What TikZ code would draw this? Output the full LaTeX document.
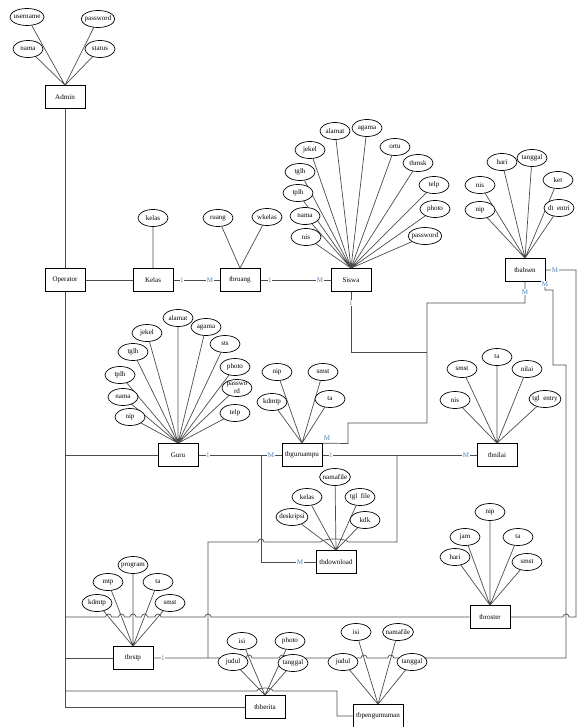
\documentclass[tikz,border=0pt]{standalone}
\usepackage{fontspec}
\setmainfont{Liberation Serif}
\usepackage{xcolor}
\usetikzlibrary{shapes.geometric,backgrounds}
\definecolor{relblue}{RGB}{79,129,189}

\begin{document}
\begin{tikzpicture}[x = 0.3mm, y = -0.3mm,
    font = \fontsize{6}{6.5}\selectfont,
    ent/.style = {draw, line width = 0.6pt, fill = white, minimum width = 12mm, minimum height = 6.9mm, inner sep = 1pt},
    attr/.style = {draw, line width = 0.6pt, ellipse, fill = white, minimum width = 9mm, minimum height = 5.1mm,
        inner xsep = -1.2pt, inner ysep = 0pt},
    link/.style = {draw = gray!60!black, line width = 0.6pt},
    one/.style = {fill = white, text = gray, inner sep = 0.6pt},
    many/.style = {fill = white, text = relblue, inner sep = 0.6pt}]

    \useasboundingbox (0,0) rectangle (578,727);

    % Entities
    \node[ent] (admin) at (65,97) {Admin};
    \node[ent] (operator) at (65,280) {Operator};
    \node[ent] (kelas) at (153,280) {Kelas};
    \node[ent] (tbruang) at (240,280) {tbruang};
    \node[ent] (siswa) at (351,280) {Siswa};
    \node[ent] (tbabsen) at (525,270) {tbabsen};
    \node[ent] (guru) at (178,455) {Guru};
    \node[ent] (tbguruampu) at (302,455) {tbguruampu};
    \node[ent] (tbnilai) at (497,455) {tbnilai};
    \node[ent] (tbdownload) at (336,562) {tbdownload};
    \node[ent] (tbroster) at (490,617) {tbroster};
    \node[ent] (tbrstp) at (133,658) {tbrstp};
    \node[ent] (tbberita) at (265,707) {tbberita};
    \node[ent, minimum width = 15mm] (tbpengumuman) at (378,716) {tbpengumuman};

    % Attributes
    \node[attr] (a-username) at (27,17) {username};
    \node[attr] (a-password) at (98,19) {password};
    \node[attr] (a-nama) at (28,49) {nama};
    \node[attr] (a-status) at (100,49) {status};

    \node[attr] (k-kelas) at (153,218) {kelas};
    \node[attr] (r-ruang) at (218,218) {ruang};
    \node[attr] (r-wkelas) at (267,217) {wkelas};

    \node[attr] (s-nis) at (306,237) {nis};
    \node[attr] (s-nama) at (305,216) {nama};
    \node[attr] (s-tplh) at (298,193) {tplh};
    \node[attr] (s-tglh) at (300,172) {tglh};
    \node[attr] (s-jekel) at (310,150) {jekel};
    \node[attr] (s-alamat) at (335,131) {alamat};
    \node[attr] (s-agama) at (367,128) {agama};
    \node[attr] (s-ortu) at (395,147) {ortu};
    \node[attr] (s-thmsk) at (418,163) {thmsk};
    \node[attr] (s-telp) at (434,185) {telp};
    \node[attr] (s-photo) at (435,209) {photo};
    \node[attr] (s-password) at (425,236) {password};

    \node[attr] (b-hari) at (502,162) {hari};
    \node[attr] (b-tanggal) at (532,158) {tanggal};
    \node[attr] (b-nis) at (480,185) {nis};
    \node[attr] (b-ket) at (558,180) {ket};
    \node[attr] (b-nip) at (480,210) {nip};
    \node[attr] (b-dtentri) at (559,208) {dt\ \ entri};

    \node[attr] (g-alamat) at (178,318) {alamat};
    \node[attr] (g-agama) at (206,327) {agama};
    \node[attr] (g-jekel) at (147,333) {jekel};
    \node[attr] (g-sts) at (225,344) {sts};
    \node[attr] (g-tglh) at (133,352) {tglh};
    \node[attr] (g-photo) at (235,367) {photo};
    \node[attr] (g-tplh) at (120,375) {tplh};
    \node[attr, align = center] (g-password) at (237,388) {passwo\\rd};
    \node[attr] (g-nama) at (123,397) {nama};
    \node[attr] (g-telp) at (235,413) {telp};
    \node[attr] (g-nip) at (130,417) {nip};

    \node[attr] (ga-nip) at (277,372) {nip};
    \node[attr] (ga-smst) at (323,372) {smst};
    \node[attr] (ga-kdmtp) at (272,402) {kdmtp};
    \node[attr] (ga-ta) at (330,399) {ta};

    \node[attr] (n-smst) at (462,369) {smst};
    \node[attr] (n-ta) at (497,357) {ta};
    \node[attr] (n-nilai) at (527,369) {nilai};
    \node[attr] (n-nis) at (455,400) {nis};
    \node[attr] (n-tglentry) at (545,399) {tgl\ \ entry};

    \node[attr] (d-namafile) at (335,477) {namafile};
    \node[attr] (d-kelas) at (307,497) {kelas};
    \node[attr] (d-tglfile) at (360,497) {tgl\ \ file};
    \node[attr] (d-deskripsi) at (292,517) {deskripsi};
    \node[attr] (d-kdk) at (365,520) {kdk};

    \node[attr] (ro-nip) at (490,512) {nip};
    \node[attr] (ro-jam) at (465,537) {jam};
    \node[attr] (ro-ta) at (518,537) {ta};
    \node[attr] (ro-hari) at (455,557) {hari};
    \node[attr] (ro-smst) at (527,562) {smst};

    \node[attr] (p-program) at (133,565) {program};
    \node[attr] (p-mtp) at (108,582) {mtp};
    \node[attr] (p-ta) at (158,582) {ta};
    \node[attr] (p-kdmtp) at (97,603) {kdmtp};
    \node[attr] (p-smst) at (170,603) {smst};

    \node[attr] (be-isi) at (242,641) {isi};
    \node[attr] (be-photo) at (290,641) {photo};
    \node[attr] (be-judul) at (233,662) {judul};
    \node[attr] (be-tanggal) at (293,663) {tanggal};

    \node[attr] (pe-isi) at (356,632) {isi};
    \node[attr] (pe-namafile) at (398,632) {namafile};
    \node[attr] (pe-judul) at (343,662) {judul};
    \node[attr] (pe-tanggal) at (412,662) {tanggal};

    \begin{scope}[on background layer]
    % attribute lines
    \draw[link] (a-username) -- (admin.north) (a-password) -- (admin.north)
        (a-nama) -- (admin.north) (a-status) -- (admin.north);
    \draw[link] (k-kelas) -- (kelas.north) (r-ruang) -- (tbruang.north) (r-wkelas) -- (tbruang.north);
    \draw[link] (s-nis) -- (siswa.north) (s-nama) -- (siswa.north) (s-tplh) -- (siswa.north)
        (s-tglh) -- (siswa.north) (s-jekel) -- (siswa.north) (s-alamat) -- (siswa.north)
        (s-agama) -- (siswa.north) (s-ortu) -- (siswa.north) (s-thmsk) -- (siswa.north)
        (s-telp) -- (siswa.north) (s-photo) -- (siswa.north) (s-password) -- (siswa.north);
    \draw[link] (b-hari) -- (tbabsen.north) (b-tanggal) -- (tbabsen.north) (b-nis) -- (tbabsen.north)
        (b-ket) -- (tbabsen.north) (b-nip) -- (tbabsen.north) (b-dtentri) -- (tbabsen.north);
    \draw[link] (g-alamat) -- (guru.north) (g-agama) -- (guru.north) (g-jekel) -- (guru.north)
        (g-sts) -- (guru.north) (g-tglh) -- (guru.north) (g-photo) -- (guru.north)
        (g-tplh) -- (guru.north) (g-password) -- (guru.north) (g-nama) -- (guru.north)
        (g-telp) -- (guru.north) (g-nip) -- (guru.north);
    \draw[link] (ga-nip) -- (tbguruampu.north) (ga-smst) -- (tbguruampu.north)
        (ga-kdmtp) -- (tbguruampu.north) (ga-ta) -- (tbguruampu.north);
    \draw[link] (n-smst) -- (tbnilai.north) (n-ta) -- (tbnilai.north) (n-nilai) -- (tbnilai.north)
        (n-nis) -- (tbnilai.north) (n-tglentry) -- (tbnilai.north);
    \draw[link] (d-namafile) -- (tbdownload.north) (d-kelas) -- (tbdownload.north)
        (d-tglfile) -- (tbdownload.north) (d-deskripsi) -- (tbdownload.north) (d-kdk) -- (tbdownload.north);
    \draw[link] (ro-nip) -- (tbroster.north) (ro-jam) -- (tbroster.north) (ro-ta) -- (tbroster.north)
        (ro-hari) -- (tbroster.north) (ro-smst) -- (tbroster.north);
    \draw[link] (p-program) -- (tbrstp.north) (p-mtp) -- (tbrstp.north) (p-ta) -- (tbrstp.north)
        (p-kdmtp) -- (tbrstp.north) (p-smst) -- (tbrstp.north);
    \draw[link] (be-isi) -- (tbberita.north) (be-photo) -- (tbberita.north)
        (be-judul) -- (tbberita.north) (be-tanggal) -- (tbberita.north);
    \draw[link] (pe-isi) -- (tbpengumuman.north) (pe-namafile) -- (tbpengumuman.north)
        (pe-judul) -- (tbpengumuman.north) (pe-tanggal) -- (tbpengumuman.north);

    % relation lines
    \draw[link] (admin.south) -- (operator.north);
    \draw[link] (operator.south) -- (operator.south |- tbberita.west) -- (tbberita.west);
    \draw[link] (operator.east) -- (kelas.west);
    \draw[link] (kelas.east) -- (tbruang.west);
    \draw[link] (tbruang.east) -- (siswa.west);
    \draw[link] (siswa.south) -- (351,352) -- (427,352);
    \draw[link] (guru.west -| operator.south) -- (guru.west);
    \draw[link] (guru.east) -- (tbguruampu.west);
    \draw[link] (tbguruampu.east) -- (tbnilai.west);
    \draw[link] (tbguruampu.north east) -- (348,443.5) -- (348,423) -- (427,423) -- (427,303)
        -- (525,303) -- (tbabsen.south);
    \draw[link] (261,455) -- (261,562) -- (tbdownload.west);
    \draw[link] (208,658) -- (208,542)
        -- (258,542) arc[start angle = 180, end angle = 0, radius = 0.9mm]
        -- (321,542) arc[start angle = 180, end angle = 0, x radius = 4.05mm, y radius = 0.9mm]
        -- (397,542) -- (397,455);
    \draw[link] (tbroster.west -| operator.south)
        -- (105.5,617) arc[start angle = 180, end angle = 0, radius = 0.9mm]
        -- (118.5,617) arc[start angle = 180, end angle = 0, radius = 0.9mm]
        -- (130,617) arc[start angle = 180, end angle = 0, radius = 0.9mm]
        -- (141.5,617) arc[start angle = 180, end angle = 0, radius = 0.9mm]
        -- (155,617) arc[start angle = 180, end angle = 0, radius = 0.9mm]
        -- (205,617) arc[start angle = 180, end angle = 0, radius = 0.9mm]
        -- (tbroster.west);
    \draw[link] (tbroster.east)
        -- (563,617) arc[start angle = 180, end angle = 0, radius = 0.9mm]
        -- (576,617) -- (576,0 |- tbabsen.east) -- (tbabsen.east);
    \draw[link] (tbrstp.west -| operator.south) -- (tbrstp.west);
    \draw[link] (tbrstp.east)
        -- (246,658) arc[start angle = 180, end angle = 0, radius = 0.9mm]
        -- (279.3,658) arc[start angle = 180, end angle = 0, radius = 0.9mm]
        -- (361,658) arc[start angle = 180, end angle = 0, radius = 0.9mm]
        -- (387.8,658) arc[start angle = 180, end angle = 0, radius = 0.9mm]
        -- (566,658) -- (566,365) -- (553,365) -- (553,290) -- (545,290) -- (545,0 |- tbabsen.south);
    \draw[link] (65,691)
        -- (257,691) arc[start angle = 180, end angle = 0, x radius = 2.4mm, y radius = 0.9mm]
        -- (337,691) -- (337,0 |- tbpengumuman.west) -- (tbpengumuman.west);
    \end{scope}

    % cardinalities
    \node[one] (c-kelas) at (182,280) {1};
    \node[many] (c-ruang1) at (210,280) {M};
    \node[one] (c-ruang2) at (270,280) {1};
    \node[many] (c-siswa) at (320,280) {M};
    \node[one] (c-siswa2) at (351,303) {1};
    \node[many] (c-absen1) at (525,292) {M};
    \node[many] (c-absen2) at (545,284) {M};
    \node[many] (c-absen3) at (555,270) {M};
    \node[one] (c-guru) at (208,455) {1};
    \node[many] (c-ampu1) at (271,455) {M};
    \node[many] (c-ampu2) at (327,438) {M};
    \node[one] (c-ampu3) at (331,455) {1};
    \node[many] (c-nilai) at (466,455) {M};
    \node[many] (c-download) at (300,562) {M};
    \node[one] (c-rstp) at (163,658) {1};

\end{tikzpicture}
\end{document}
